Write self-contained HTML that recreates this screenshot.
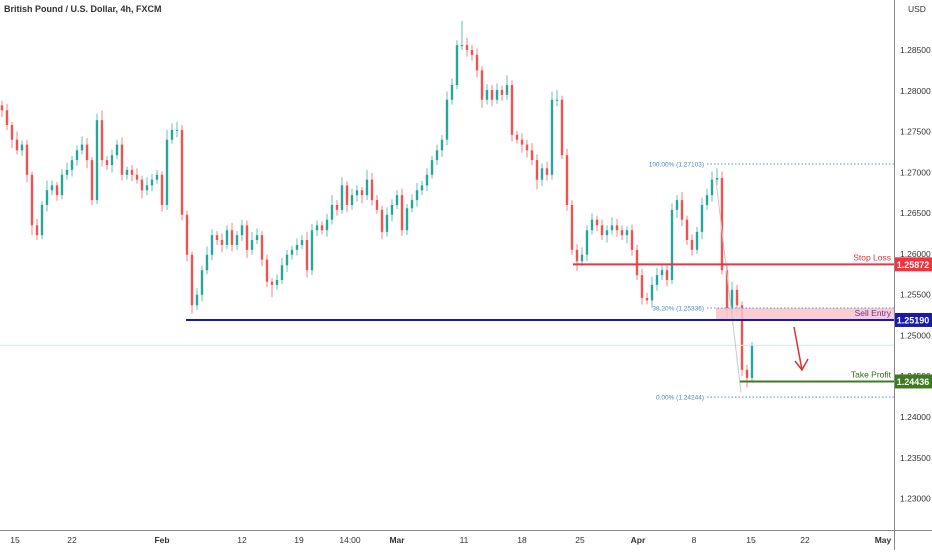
<!DOCTYPE html>
<html><head><meta charset="utf-8"><style>
body{margin:0;background:#fff;font-family:"Liberation Sans",sans-serif}
svg text{font-family:"Liberation Sans",sans-serif}
</style></head><body>
<svg id="c" width="932" height="550" viewBox="0 0 932 550">
<rect width="932" height="550" fill="#fff"/>
<g id="candles"></g>
<g id="ov"></g>
<g id="axes"></g>
<text x="4" y="12" font-size="9" font-weight="bold" fill="#333">British Pound / U.S. Dollar, 4h, FXCM</text>
</svg>
<script>
const closes=[1.2776,1.2758,1.2740,1.2727,1.2734,1.2697,1.2635,1.2623,1.2660,1.2678,1.2684,1.2672,1.2697,1.2703,1.2715,1.2727,1.2734,1.2715,1.2666,1.2764,1.2715,1.2709,1.2721,1.2734,1.2697,1.2703,1.2697,1.2691,1.2678,1.2684,1.2691,1.2697,1.2660,1.2740,1.2752,1.2752,1.2648,1.2599,1.2537,1.2550,1.2580,1.2599,1.2623,1.2617,1.2611,1.2629,1.2611,1.2623,1.2635,1.2605,1.2617,1.2623,1.2593,1.2566,1.2562,1.2568,1.2586,1.2599,1.2605,1.2611,1.2617,1.2580,1.2629,1.2635,1.2629,1.2642,1.2660,1.2654,1.2684,1.2660,1.2672,1.2678,1.2672,1.2691,1.2666,1.2654,1.2627,1.2648,1.2660,1.2672,1.2629,1.2656,1.2666,1.2678,1.2684,1.2697,1.2715,1.2727,1.2740,1.2789,1.2807,1.2856,1.2856,1.2850,1.2844,1.2825,1.2789,1.2801,1.2789,1.2801,1.2795,1.2807,1.2746,1.2740,1.2734,1.2727,1.2715,1.2691,1.2705,1.2697,1.2789,1.2789,1.2721,1.2660,1.2605,1.2591,1.2599,1.2629,1.2642,1.2635,1.2623,1.2629,1.2635,1.2629,1.2623,1.2629,1.2605,1.2574,1.2546,1.2543,1.2562,1.2574,1.2580,1.2568,1.2654,1.2666,1.2642,1.2617,1.2605,1.2627,1.2660,1.2672,1.2691,1.2693,1.2580,1.2531,1.2556,1.2537,1.2458,1.2448,1.2488];
const wickHi=[6,8,4,10,5,6,4,8,5,12,6,4,7,9,5,6,10,8,4,8,12,5,7,6,9,4,6,8,5,10,7,6,4,12,8,10,6,5,4,8,6,10,7,5,8,6,9,5,7,6,10,8,5,6,4,7,9,6,5,8,6,10,8,6,5,7,12,6,10,5,8,6,4,12,8,6,5,9,7,6,8,5,7,9,6,8,5,7,6,10,8,6,30,9,6,8,5,7,6,8,5,12,6,5,8,6,9,7,6,8,10,12,5,8,6,7,9,6,8,5,7,6,10,8,6,5,7,6,8,6,10,9,7,6,8,6,10,5,7,6,9,8,10,12,8,6,10,6,5,6,4];
const wickLo=[8,6,10,5,7,9,12,6,5,8,6,7,5,6,8,7,5,10,6,5,8,6,9,5,7,6,8,5,10,6,7,5,8,6,5,9,7,8,10,6,8,5,7,6,9,5,8,6,7,10,6,5,8,7,15,6,5,8,6,7,5,9,6,7,5,8,6,7,5,9,6,8,10,6,7,5,9,6,8,5,7,6,5,8,6,7,5,6,8,7,6,5,6,8,7,9,10,6,8,5,7,6,8,5,10,9,6,12,8,7,6,8,5,7,6,12,6,8,5,7,6,9,5,8,6,10,7,6,8,5,9,7,6,8,5,10,8,6,7,5,9,6,8,7,5,10,6,8,8,12,6];
const yTicks=[1.285,1.28,1.275,1.27,1.265,1.26,1.255,1.25,1.245,1.24,1.235,1.23];
const xLabels=["15","22","Feb","12","19","14:00","Mar","11","18","25","Apr","8","15","22","May"];
const xLabelIdx=[2.6,14,32,48,59.4,69.6,79,92.4,104,115.6,127.2,138.4,149.8,160.6,176.2];
const levels={sell:1.2519,stop:1.25872,tp:1.24436,fib100:1.27103,fib38:1.25336,fib0:1.24244,last:1.2488};

const NS="http://www.w3.org/2000/svg";
const Y=p=>50+(1.285-p)*8156;
const X=i=>2+i*5;
function mk(t,a,parent){const e=document.createElementNS(NS,t);for(const k in a)e.setAttribute(k,a[k]);parent.appendChild(e);return e;}
const cg=document.getElementById('candles'),ov=document.getElementById('ov'),ax=document.getElementById('axes');

for(let i=0;i<closes.length;i++){
  const o=i?closes[i-1]:closes[0]+0.0006,c=closes[i];
  const up=c>=o,col=up?'#26a69a':'#ef5350';
  const hi=Math.max(o,c)+wickHi[i%wickHi.length]/10000,lo=Math.min(o,c)-wickLo[i%wickLo.length]/10000;
  const g=mk('g',{},cg);
  
  
  mk('line',{x1:X(i),x2:X(i),y1:Y(hi),y2:Y(lo),stroke:col,'stroke-width':1,opacity:0.7},g);
  const yt=Math.min(Y(o),Y(c)),h=Math.max(1,Math.abs(Y(o)-Y(c)));
  mk('rect',{x:X(i)-1.2,y:yt,width:2.4,height:h,fill:col},g);
}

function hline(p,x1,col,w,name,dash){const e=mk('line',{x1:x1,x2:894,y1:Y(p),y2:Y(p),stroke:col,'stroke-width':w},ov);if(dash)e.setAttribute('stroke-dasharray',dash);return e;}
const zone=mk('rect',{x:716,y:Y(levels.fib38),width:178,height:Y(levels.sell)-Y(levels.fib38),fill:'#f7c5ca',opacity:0.85},ov);


hline(levels.last,0,'#cfe9e6',1,'last-price-line');
hline(levels.fib100,707,'#5b8fd0',1,'fib-100-line','1.5,2');
hline(levels.fib38,707,'#5b8fd0',1,'fib-38-line','1.5,2');
hline(levels.fib0,707,'#5b8fd0',1,'fib-0-line','1.5,2');
const tl=mk('line',{x1:716,y1:Y(1.2690),x2:741,y2:Y(1.2430),stroke:'#c8c8c8','stroke-width':1},ov);


hline(levels.sell,186,'#1a1aa8',2,'sell-entry-line');
hline(levels.stop,573,'#f2323f',2,'stop-loss-line');
hline(levels.tp,740,'#3d7a22',2,'take-profit-line');
function txt(x,y,s,size,col,anchor,name,weight){const e=mk('text',{x:x,y:y,'font-size':size,fill:col,'text-anchor':anchor||'start'},ov);if(weight)e.setAttribute('font-weight',weight);e.textContent=s;return e;}
txt(704,Y(levels.fib100)+2.5,'100.00% (1.27103)',6.5,'#4a86c8','end','fib-100-label');
txt(704,Y(levels.fib38)+2.5,'38.20% (1.25336)',6.5,'#4a86c8','end','fib-38-label');
txt(704,Y(levels.fib0)+2.5,'0.00% (1.24244)',6.5,'#4a86c8','end','fib-0-label');
txt(891,Y(levels.stop)-4,'Stop Loss',8.5,'#e0303c','end','stop-loss-label');
txt(891,Y(levels.sell)-4,'Sell Entry',8.5,'#6a2d9f','end','sell-entry-label');
txt(891,Y(levels.tp)-4,'Take Profit',8.5,'#2f6a1a','end','take-profit-label');
const ar=mk('path',{d:'M794,327 L802,370 M795,361 L802,370 L808,359',stroke:'#e0303c','stroke-width':1.5,fill:'none'},ov);



mk('line',{x1:894.5,x2:894.5,y1:0,y2:550,stroke:'#888','stroke-width':1},ax);
mk('line',{x1:0,x2:932,y1:530.5,y2:530.5,stroke:'#888','stroke-width':1},ax);
const usd=txt(908,12,'USD',8.5,'#333','start','currency-label');ax.appendChild(usd);
yTicks.forEach(p=>{const t=mk('text',{x:900,y:Y(p)+3,'font-size':8.5,fill:'#333'},ax);t.textContent=p.toFixed(5);});
xLabels.forEach((s,k)=>{const bold=['Feb','Mar','Apr','May'].includes(s);const t=mk('text',{x:X(xLabelIdx[k]),y:543,'font-size':8.5,fill:'#333','text-anchor':'middle','font-weight':bold?'bold':'normal'},ax);t.textContent=s;});
function box(p,col,s,name){const b=mk('rect',{x:895,y:Y(p)-7,width:37,height:14,fill:col},ax);const t=mk('text',{x:913,y:Y(p)+3.5,'font-size':9,fill:'#fff','text-anchor':'middle','font-weight':'bold'},ax);t.textContent=s;}
box(levels.stop,'#f2323f','1.25872','stop-loss-price-box');
box(levels.sell,'#1a1aa8','1.25190','sell-entry-price-box');
box(levels.tp,'#3d7a22','1.24436','take-profit-price-box');
</script>
</body></html>
